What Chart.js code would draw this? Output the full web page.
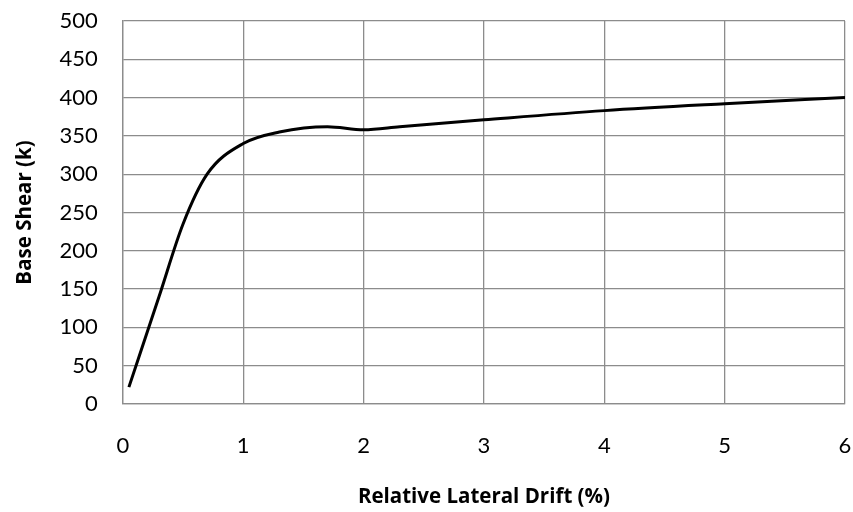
<!DOCTYPE html>
<html>
<head>
<meta charset="utf-8">
<script src="https://cdn.jsdelivr.net/npm/chart.js@4"></script>
<style>
  body { margin: 0; background: #fff; }
</style>
</head>
<body>
<canvas id="pushoverChart" width="853" height="512"></canvas>
<script>
// pushover curve
const drift = [0.05, 0.3, 0.5, 0.7, 1.0, 1.3, 1.7, 2.0, 2.3, 3, 4, 5, 6];
const shear = [22, 140, 235, 300, 340, 355, 362, 358, 362, 371, 383, 392, 400];
const xTicks = [0, 1, 2, 3, 4, 5, 6];
const yTicks = [0, 50, 100, 150, 200, 250, 300, 350, 400, 450, 500];

const points = drift.map((d, i) => ({ x: d, y: shear[i] }));
const tickFont = "Lato, 'Open Sans', sans-serif";
const titleFont = "'Open Sans', Lato, sans-serif";

// tick marks are invisible, their length just spaces the labels off the frame
const gridX = { color: '#8c8c8c', lineWidth: 1.3, drawTicks: true, tickLength: 29, tickColor: 'rgba(0,0,0,0)' };
const gridY = { color: '#8c8c8c', lineWidth: 1.3, drawTicks: true, tickLength: 25, tickColor: 'rgba(0,0,0,0)' };

const ctx = document.getElementById('pushoverChart').getContext('2d');
new Chart(ctx, {
    type: 'scatter',
    data: {
        datasets: [{
            label: 'Base Shear',
            data: points,
            showLine: true,
            borderColor: '#000',
            borderWidth: 3,
            pointRadius: 0,
            cubicInterpolationMode: 'monotone',
            fill: false
        }]
    },
    options: {
        responsive: false,
        animation: false,
        layout: { padding: { top: 21, right: 8, bottom: 3, left: 13 } },
        plugins: {
            legend: { display: false },
            tooltip: { enabled: false }
        },
        scales: {
            x: {
                type: 'linear',
                min: 0,
                max: 6,
                afterBuildTicks: axis => { axis.ticks = xTicks.map(v => ({ value: v })); },
                grid: gridX,
                border: { color: '#8c8c8c', width: 1.3 },
                ticks: { color: '#000', font: { family: tickFont, size: 22 }, padding: 0 },
                title: {
                    display: true,
                    text: 'Relative Lateral Drift (%)',
                    color: '#000',
                    font: { family: titleFont, size: 20.5, weight: 'bold' },
                    padding: { top: 25, bottom: 0 }
                }
            },
            y: {
                min: 0,
                max: 500,
                afterBuildTicks: axis => { axis.ticks = yTicks.map(v => ({ value: v })); },
                grid: gridY,
                border: { color: '#8c8c8c', width: 1.3 },
                ticks: { color: '#000', font: { family: tickFont, size: 22 }, padding: 0 },
                title: {
                    display: true,
                    text: 'Base Shear (k)',
                    color: '#000',
                    font: { family: titleFont, size: 20.5, weight: 'bold' },
                    padding: { top: 0, bottom: 22 }
                }
            }
        }
    }
});
</script>
</body>
</html>
